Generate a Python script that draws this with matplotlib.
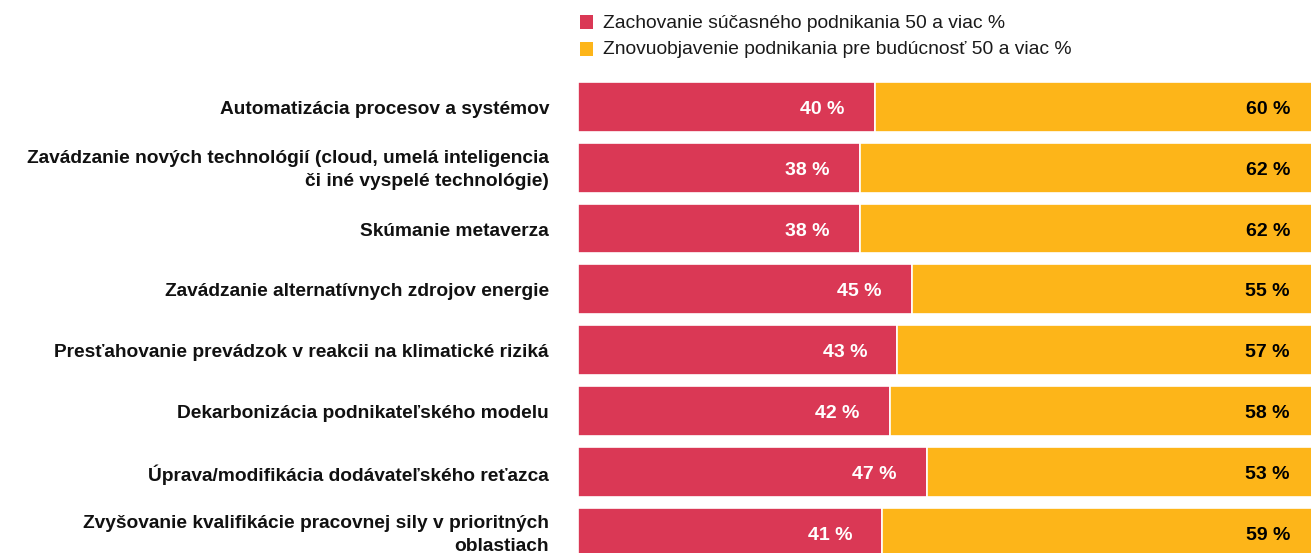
import matplotlib
matplotlib.use("Agg")
import matplotlib.pyplot as plt
from matplotlib.patches import Rectangle
from matplotlib.transforms import offset_copy

plt.rcParams['font.family'] = ['Liberation Sans', 'DejaVu Sans']

categories = [
    "Automatizácia procesov a systémov",
    "Zavádzanie nových technológií (cloud, umelá inteligencia\nči iné vyspelé technológie)",
    "Skúmanie metaverza",
    "Zavádzanie alternatívnych zdrojov energie",
    "Presťahovanie prevádzok v reakcii na klimatické riziká",
    "Dekarbonizácia podnikateľského modelu",
    "Úprava/modifikácia dodávateľského reťazca",
    "Zvyšovanie kvalifikácie pracovnej sily v prioritných\noblastiach",
]
preserve = [40, 38, 38, 45, 43, 42, 47, 41]
reinvent = [60, 62, 62, 55, 57, 58, 53, 59]
series_names = ["Zachovanie súčasného podnikania 50 a viac %",
                "Znovuobjavenie podnikania pre budúcnosť 50 a viac %"]

RED = "#DA3855"
YEL = "#FDB519"

W, H = 1311, 553
fig = plt.figure(figsize=(W / 100, H / 100), dpi=100)
# axes spans pixel x 578..1320, y 82..557.5
ax = fig.add_axes([578 / W, 1 - 557.5 / H, (1320 - 578) / W, (557.5 - 82) / H])
ax.set_xlim(0, 100)
n = len(categories)
ax.set_ylim(n - 1 + 0.41, -0.41)

ypos = list(range(n))
ax.barh(ypos, preserve, height=0.82, color=RED, edgecolor="white", linewidth=1.2)
ax.barh(ypos, reinvent, left=preserve, height=0.82, color=YEL, edgecolor="white", linewidth=1.2)

tr_val = offset_copy(ax.transData, fig=fig, x=-30, y=-2.5, units='dots')
for y, p, r in zip(ypos, preserve, reinvent):
    ax.text(p, y, f"{p} %", transform=tr_val, ha="right", va="center",
            color="white", fontsize=14, fontweight="bold")
    ax.text(p + r, y, f"{r} %", transform=tr_val, ha="right", va="center",
            color="black", fontsize=14, fontweight="bold")

tr_lab = offset_copy(ax.get_yaxis_transform(), fig=fig, x=-29, y=-2.5, units='dots')
for y, c in zip(ypos, categories):
    ax.text(0, y, c, transform=tr_lab, ha="right", va="center", fontsize=13.8,
            fontweight="bold", color="#111111", linespacing=1.5, clip_on=False)

for s in ax.spines.values():
    s.set_visible(False)
ax.set_xticks([])
ax.set_yticks([])

# legend
for i, (name, col) in enumerate(zip(series_names, [RED, YEL])):
    yc = 22 + i * 27
    fig.patches.append(Rectangle((580 / W, 1 - (yc + 7) / H), 13 / W, 14 / H,
                                 transform=fig.transFigure, facecolor=col, edgecolor="none"))
    fig.text(603 / W, 1 - (yc + 1) / H, name, ha="left", va="center", fontsize=13.9, color="#1a1a1a")

fig.savefig("out.png", dpi=100)
